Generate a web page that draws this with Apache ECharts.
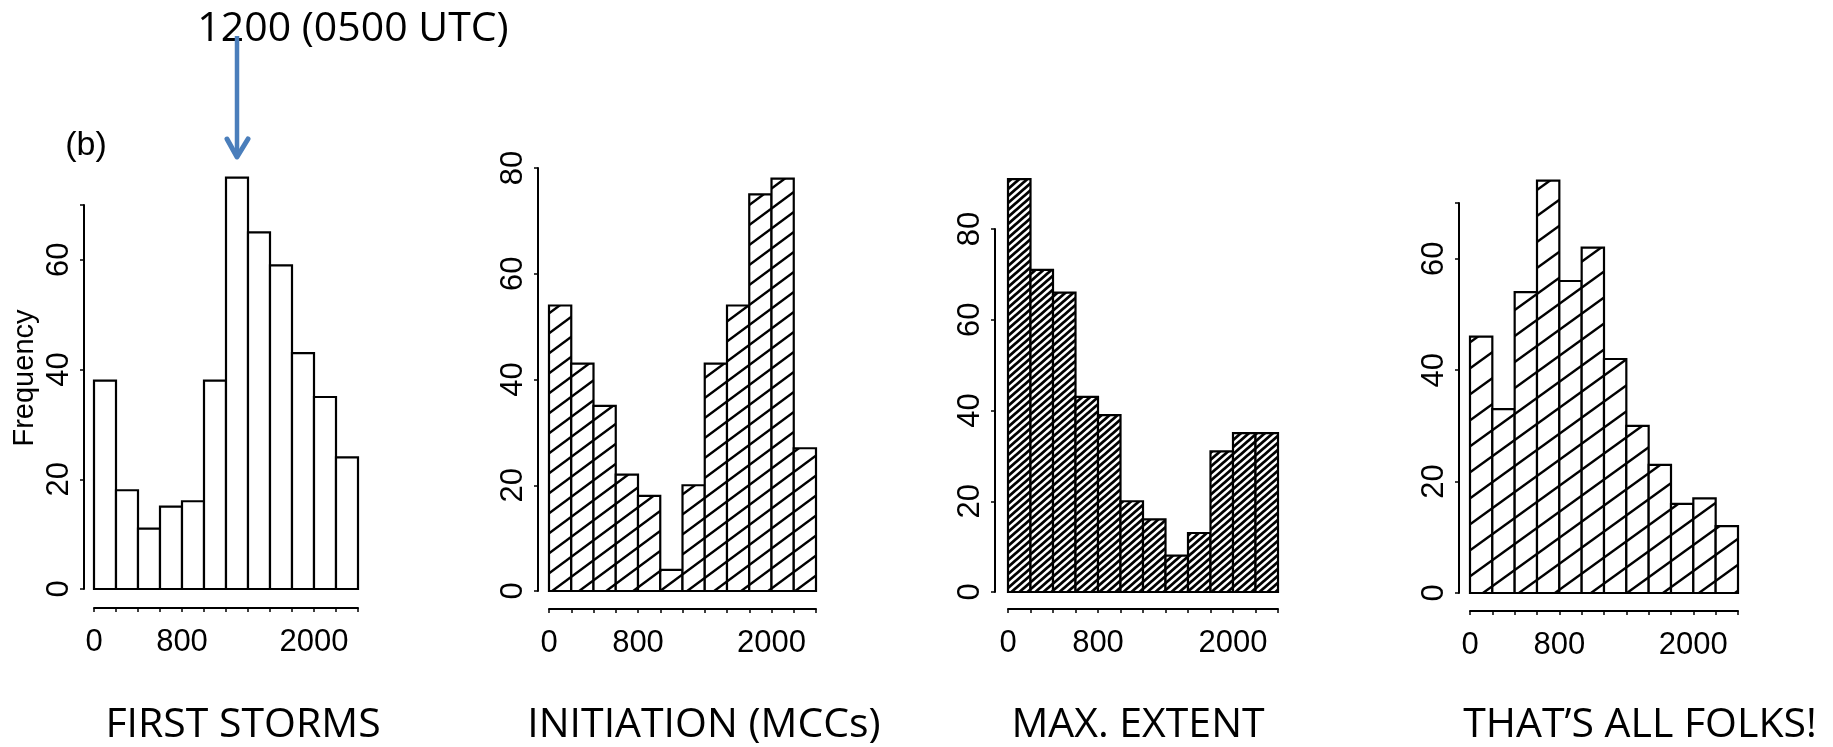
<!DOCTYPE html>
<html>
<head>
<meta charset="utf-8">
<title>Storm timing histograms</title>
<script src="https://cdn.jsdelivr.net/npm/echarts@6/dist/echarts.min.js"></script>
<style>
  html, body { margin: 0; padding: 0; background: #fff; }
  #chart { width: 1833px; height: 747px; }
</style>
</head>
<body>
<div id="chart"></div>
<script>
// bins of local time (0..2400), 200 wide
const binEdges = [0, 200, 400, 600, 800, 1000, 1200, 1400, 1600, 1800, 2000, 2200, 2400];
const firstStorms = [38, 18, 11, 15, 16, 38, 75, 65, 59, 43, 35, 24];
const initiation = [54, 43, 35, 22, 18, 4, 20, 43, 54, 75, 78, 27];
const maxExtent = [91, 71, 66, 43, 39, 20, 16, 8, 13, 31, 35, 35];
const allFolks = [46, 33, 54, 74, 56, 62, 42, 30, 23, 16, 17, 12];
const xTickLabels = [0, 800, 2000];
const yMax = [70, 80, 80, 70];
const panelTitles = ["FIRST STORMS", "INITIATION (MCCs)", "MAX. EXTENT", "THAT\u2019S ALL FOLKS!"];
const arrowText = "1200 (0500 UTC)";

const seriesValues = [firstStorms, initiation, maxExtent, allFolks];

// layout of the four panels (px)
const panels = [
  { left: 94, top: 205, width: 264, height: 384, yOff: 10, xOff: 19, hatch: null, titleX: 243 },
  { left: 549, top: 168, width: 267, height: 423, yOff: 11, xOff: 18, hatch: [27, 20, 2.4], titleX: 704 },
  { left: 1008, top: 229, width: 270, height: 363, yOff: 13, xOff: 17, hatch: [8, 7, 2.8], titleX: 1138 },
  { left: 1470, top: 203, width: 268, height: 390, yOff: 11, xOff: 18, hatch: [36, 26, 2.4], titleX: 1640 },
];

// diagonal hatch tile, lines going up to the right
function makeHatch(w, h, lw) {
  const c = document.createElement("canvas");
  c.width = w;
  c.height = h;
  const ctx = c.getContext("2d");
  ctx.fillStyle = "#fff";
  ctx.fillRect(0, 0, w, h);
  ctx.strokeStyle = "#000";
  ctx.lineWidth = lw;
  for (let k = -1; k <= 1; k++) {
    ctx.beginPath();
    ctx.moveTo(-w, 2 * h + k * h);
    ctx.lineTo(2 * w, -h + k * h);
    ctx.stroke();
  }
  return { image: c, repeat: "repeat" };
}

const axisFont = "Liberation Sans";
const grids = [], xAxes = [], yAxes = [], series = [];

panels.forEach((p, i) => {
  const fill = p.hatch ? makeHatch(p.hatch[0], p.hatch[1], p.hatch[2]) : "#fff";
  grids.push({ left: p.left, top: p.top, width: p.width, height: p.height });
  xAxes.push({
    type: "value",
    gridIndex: i,
    min: binEdges[0],
    max: binEdges[binEdges.length - 1],
    interval: 200,
    offset: p.xOff,
    splitLine: { show: false },
    axisLine: { show: true, onZero: false, lineStyle: { color: "#000", width: 2 } },
    axisTick: { show: true, length: 4, lineStyle: { color: "#000", width: 1.5 } },
    axisLabel: {
      margin: 19,
      color: "#000",
      fontFamily: axisFont,
      fontSize: 31,
      formatter: (v) => (xTickLabels.includes(v) ? String(v) : ""),
    },
  });
  yAxes.push({
    type: "value",
    gridIndex: i,
    min: 0,
    max: yMax[i],
    interval: 20,
    offset: p.yOff,
    splitLine: { show: false },
    axisLine: { show: true, onZero: false, lineStyle: { color: "#000", width: 2 } },
    axisTick: { show: true, length: 4, lineStyle: { color: "#000", width: 1.5 } },
    axisLabel: {
      rotate: 90,
      margin: 9,
      color: "#000",
      fontFamily: axisFont,
      fontSize: 31,
      formatter: (v) => (v % 20 === 0 ? String(v) : ""),
    },
  });
  const data = seriesValues[i].map((v, j) => [binEdges[j], binEdges[j + 1], v]);
  series.push({
    type: "custom",
    xAxisIndex: i,
    yAxisIndex: i,
    clip: false,
    data: data,
    renderItem: (params, api) => {
      const p0 = api.coord([api.value(0), 0]);
      const p1 = api.coord([api.value(1), api.value(2)]);
      return {
        type: "rect",
        shape: { x: p0[0], y: p1[1], width: p1[0] - p0[0], height: p0[1] - p1[1] },
        style: { fill: fill, stroke: "#000", lineWidth: 2.2 },
      };
    },
  });
});

const titleFont = "41px 'Open Sans'";
const graphic = panels.map((p, i) => ({
  type: "text",
  x: p.titleX,
  y: 725,
  style: { text: panelTitles[i], font: titleFont, fill: "#000", textAlign: "center", textVerticalAlign: "middle" },
}));

graphic.push(
  {
    type: "text",
    x: 353,
    y: 29,
    style: { text: arrowText, font: titleFont, fill: "#000", textAlign: "center", textVerticalAlign: "middle" },
  },
  {
    type: "text",
    x: 86,
    y: 146,
    style: { text: "(b)", font: "34px 'Liberation Sans'", fill: "#000", textAlign: "center", textVerticalAlign: "middle" },
  },
  {
    type: "text",
    x: 25,
    y: 378,
    rotation: Math.PI / 2,
    style: { text: "Frequency", font: "29px 'Liberation Sans'", fill: "#000", textAlign: "center", textVerticalAlign: "middle" },
  },
  // blue arrow pointing at the 1200 bin
  {
    type: "line",
    z: 10,
    shape: { x1: 237, y1: 36, x2: 237, y2: 156 },
    style: { stroke: "#4a7ebb", lineWidth: 4.5 },
  },
  {
    type: "polyline",
    z: 10,
    shape: { points: [[227, 139], [237, 157], [248, 139]] },
    style: { stroke: "#4a7ebb", lineWidth: 5, fill: null, lineCap: "round", lineJoin: "round" },
  }
);

const chart = echarts.init(document.getElementById("chart"));
chart.setOption({
  backgroundColor: "#fff",
  animation: false,
  grid: grids,
  xAxis: xAxes,
  yAxis: yAxes,
  series: series,
  graphic: graphic,
});
window.onresize = function () {
  chart.resize();
};
</script>
</body>
</html>
